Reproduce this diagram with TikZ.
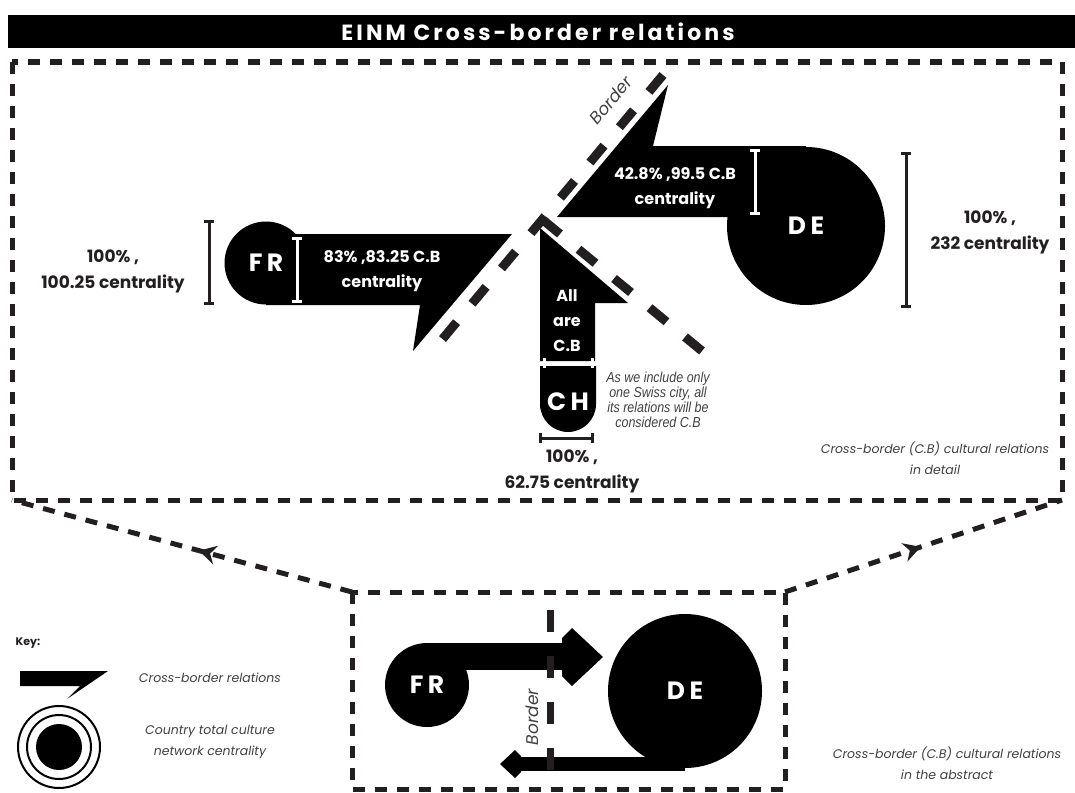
\documentclass[tikz,border=0pt]{standalone}
\usepackage{fontspec}
\setmainfont{Poppins}
\newfontfamily\narrowfont[FakeStretch=0.86]{Liberation Sans}
\usetikzlibrary{arrows.meta,decorations.markings}
\definecolor{inkgrey}{HTML}{231F20}
\definecolor{notegrey}{HTML}{404040}
\newcommand\countryfont{\bfseries\fontsize{25}{25}\selectfont\addfontfeatures{LetterSpace=18}}
\newcommand\barfont{\bfseries\fontsize{16}{25}\selectfont}
\newcommand\sharefont{\bfseries\fontsize{17}{26}\selectfont}
\newcommand\notefont{\itshape\fontsize{12.5}{21}\selectfont}
\tikzset{
  country/.style = {circle, fill=black, text=white, inner sep=0pt,
    minimum size=#1, font=\countryfont},
  onbar/.style = {text=white, align=center, inner sep=0pt, font=\barfont},
  share/.style = {text=inkgrey, align=center, inner sep=0pt, font=\sharefont},
  note/.style = {text=notegrey, align=center, inner sep=0pt, font=\notefont},
  swissnote/.style = {text=notegrey, align=center, inner sep=0pt,
    font=\narrowfont\itshape\fontsize{14.5}{15}\selectfont},
  borderlabel/.style = {text=notegrey, inner sep=0pt,
    font=\itshape\fontsize{17}{17}\selectfont},
  borderline/.style = {draw=inkgrey, line width=9pt, dash pattern=on 22pt off 24pt},
  framedash/.style = {draw=inkgrey, line width=5pt, dash pattern=on 12pt off 10pt},
  ibeam/.style = {line width=3pt, {Bar[width=10pt]}-{Bar[width=10pt]}},
  marked/.style = {postaction={decorate}, decoration={markings,
    mark=at position #1 with {\arrow[inkgrey]{Stealth[length=17pt,width=19pt]}}}},
}

\begin{document}
\begin{tikzpicture}[x=1pt,y=-1pt]
  \useasboundingbox (0,0) rectangle (1075,792);
  \fill[black] (8,15) rectangle (1075,48);
  \node[text=white, font=\bfseries\fontsize{22}{22}\selectfont\addfontfeatures{LetterSpace=14}]
    (title) at (538,32) {EINM Cross-border relations};
  \draw[framedash] (12,62) rectangle (1062,500);

  \fill (266,234) -- (512,234) -- (413,351) -- (420,305) -- (266,305) -- cycle;
  \node[country=83pt] (fr) at (266,263) {FR};
  \draw[ibeam, white] (297,237) -- (297,303);
  \node[onbar] (frshare) at (382,271) {83\% ,83.25 C.B\\centrality};
  \draw[ibeam, inkgrey] (209,220) -- (209,305);
  \node[share] (frtotal) at (113,271) {100\% ,\\100.25 centrality};

  \fill (668,85) -- (653,146) -- (806,146) -- (806,217) -- (557,217) -- cycle;
  \node[country=158pt] (de) at (806,226) {DE};
  \draw[ibeam, white] (755,149) -- (755,215);
  \node[onbar] (deshare) at (675,188) {42.8\% ,99.5 C.B\\centrality};
  \draw[ibeam, inkgrey] (906,152) -- (906,308);
  \node[share] (detotal) at (990,232) {100\% ,\\232 centrality};

  \fill (540,228) -- (628,303) -- (595,303) -- (595,361) -- (540,361) -- cycle;
  \node[onbar] (allcb) at (567,321) {All\\are\\C.B};
  \fill (540,366) -- (596,366) -- (596,404) arc[start angle=0, end angle=180, radius=28] -- cycle;
  \node[onbar, font=\countryfont] (ch) at (568,402) {CH};
  \draw[ibeam, white] (543,363) -- (594,363);
  \draw[ibeam, inkgrey] (539,438) -- (594,438);
  \node[share] (chtotal) at (572,471) {100\% ,\\62.75 centrality};
  \node[swissnote] (swiss) at (658,400)
    {As we include only\\one Swiss city, all\\its relations will be\\considered C.B};

  \draw[borderline] (663,75) -- (435,348);
  \draw[borderline] (543,220) -- (702,351);
  \node[borderlabel, rotate=50] (border) at (611,100) {Border};
  \node[note] (detail) at (935,458) {Cross-border (C.B) cultural relations\\in detail};

  \draw[framedash, marked=0.45] (352,592) -- (12,500);
  \draw[framedash, marked=0.49] (785,592) -- (1062,500);
  \draw[framedash] (352,592) rectangle (785,789);

  \fill (427,643) rectangle (565,670);
  \fill (562,638) -- (572,628) -- (603,657) -- (572,686) -- (562,676) -- cycle;
  \fill (516,757) rectangle (685,771);
  \fill (500,764) -- (515,750) -- (521,756) -- (521,772) -- (515,778) -- cycle;
  \draw[borderline, line width=7pt, dash pattern=on 22pt off 24pt] (550,610) -- (550,770);
  \node[country=84pt] (frb) at (427,685) {FR};
  \node[country=154pt] (deb) at (685,691) {DE};
  \node[borderlabel, rotate=90] (borderb) at (532,717) {Border};
  \node[note] (abstract) at (947,763) {Cross-border (C.B) cultural relations\\in the abstract};

  \node[font=\bfseries\fontsize{11}{11}\selectfont, text=inkgrey] (key) at (28,643) {Key:};
  \fill (20,671) -- (108,671) -- (67,699) -- (80,686) -- (20,686) -- cycle;
  \node[note] (keyrel) at (210,678) {Cross-border relations};
  \node[circle, fill, inner sep=0pt, minimum size=46pt] (keydot) at (59,747) {};
  \node[circle, draw, line width=2pt, inner sep=0pt, minimum size=64pt] at (keydot) {};
  \node[circle, draw, line width=2pt, inner sep=0pt, minimum size=82pt] at (keydot) {};
  \node[note] (keycent) at (210,742) {Country total culture\\network centrality};
\end{tikzpicture}
\end{document}
